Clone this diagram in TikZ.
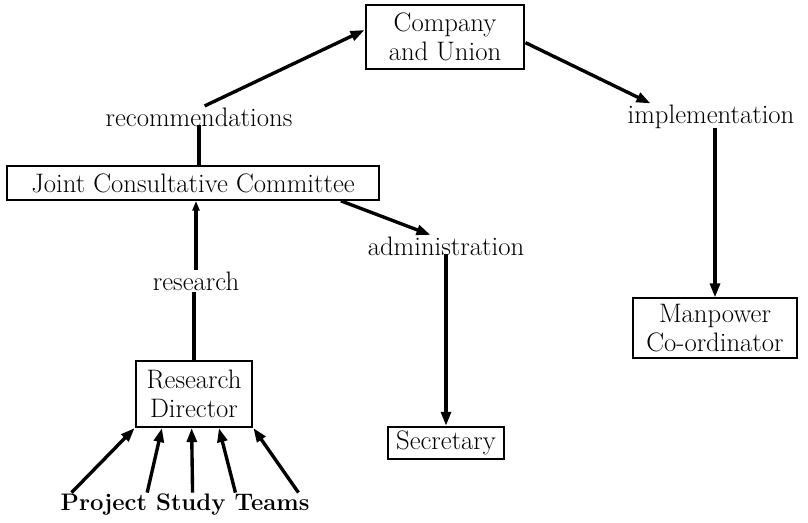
\documentclass[tikz,border=0pt]{standalone}
\usetikzlibrary{arrows.meta,positioning,calc}
\newcommand{\orgfont}{\fontsize{19}{21}\selectfont}
\tikzstyle{flow} = [-{Triangle[length=10pt,width=7pt]},line width=2.4pt]
\tikzstyle{link} = [line width=2.4pt]
\tikzstyle{feed} = [-{Triangle[open,length=7pt,width=5pt]},line width=2.4pt]
\tikzset{
  basic box/.style = {
    shape = rectangle,
    draw,
    line width=1.4pt,
    align=center,
    inner sep=1pt,
    font=\orgfont,
    },
  tag/.style = {
    inner sep=1pt,
    font=\orgfont,
    },
}
\begin{document}
\begin{tikzpicture}[x=0.025cm,y=-0.025cm]
    \useasboundingbox (0,0) rectangle (808,522);

    % boxes
    \node[basic box,minimum width=113pt,minimum height=45pt] (company) at (445,37) {Company\\and Union};
    \node[basic box,minimum width=265pt,minimum height=24pt] (jcc) at (193,183) {Joint Consultative Committee};
    \node[basic box,minimum width=117pt,minimum height=42pt] (manpower) at (715,328) {Manpower\\Co-ordinator};
    \node[basic box,minimum width=83pt,minimum height=47pt] (director) at (194,394) {Research\\Director};
    \node[basic box,minimum width=82pt,minimum height=23pt] (secretary) at (446,443) {Secretary};

    % labels
    \node[tag] (recom) at (199,117) {recommendations};
    \node[tag] (impl) at (711,117) {implementation};
    \node[tag] (research) at (196,281) {research};
    \node[tag] (admin) at (446,246) {administration};
    \node[tag,font=\fontsize{17}{20}\selectfont\bfseries] (teams) at (185,505) {Project Study Teams};

    % Paths
    \draw[link] ([yshift=2pt]recom.south) -- (recom.south |- jcc.north);
    \draw[flow] ([xshift=4pt]recom.north) -- ([yshift=5pt]company.west);

    \draw[flow] ([yshift=-4pt]company.east) -- ([xshift=-43pt]impl.north);
    \draw[flow] ([yshift=2pt]manpower.north |- impl.south) -- (manpower.north);

    \draw[flow] ([xshift=-28pt]jcc.south east) -- ([xshift=-11pt]admin.north);
    \draw[flow] ([yshift=2pt]secretary.north |- admin.south) -- (secretary.north);

    \draw[link] (director.north) -- (director.north |- research.south);
    \draw[feed] (research.north) -- (research.north |- jcc.south);

    \foreach \s/\e in {0.05/0,0.35/0.23,0.53/0.48,0.70/0.71,0.95/1}
        \draw[flow] ($(teams.north west)!\s!(teams.north east)$) -- ($(director.south west)!\e!(director.south east)$);

\end{tikzpicture}
\end{document}
